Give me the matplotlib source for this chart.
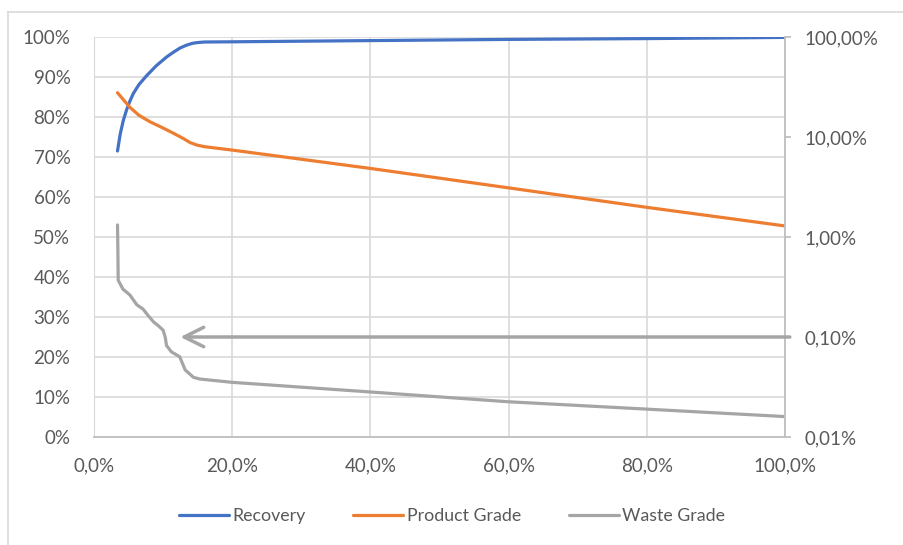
import matplotlib
matplotlib.use("Agg")
import matplotlib.pyplot as plt
from matplotlib.ticker import FuncFormatter, FixedLocator, NullLocator
from matplotlib.lines import Line2D

# mass pull (%) vs. recovery, product grade and waste grade
rec_x = [3.4, 3.8, 4.25, 4.7, 5.2, 5.7, 6.5, 7.6, 9.0, 10.5, 11.5, 12.4, 13.3, 14.2, 14.9, 16.0, 20.0, 40.0, 60.0, 80.0, 100.0]
recovery = [71.5, 75.8, 79.2, 81.7, 84.0, 85.9, 88.1, 90.3, 92.8, 95.0, 96.2, 97.2, 97.9, 98.4, 98.6, 98.75, 98.8, 99.1, 99.4, 99.6, 99.9]

prod_x = [3.4, 5.2, 6.5, 8.1, 10.0, 11.5, 13.0, 13.9, 14.9, 16.0, 20.0, 40.0, 60.0, 80.0, 100.0]
product_grade = [27.7, 19.8, 16.5, 14.2, 12.3, 10.9, 9.6, 8.8, 8.3, 8.0, 7.4, 4.85, 3.1, 1.98, 1.29]

waste_x = [3.4, 3.45, 3.5, 4.2, 4.6, 5.2, 5.6, 6.2, 7.1, 7.8, 8.6, 9.4, 10.0, 10.3, 10.5,
           11.2, 12.4, 13.2, 14.4, 15.3, 20.0, 40.0, 60.0, 80.0, 100.0]
waste_grade = [1.32, 0.8, 0.37, 0.30, 0.285, 0.263, 0.24, 0.21, 0.19, 0.165, 0.142, 0.128, 0.117, 0.10, 0.082,
               0.071, 0.0635, 0.0468, 0.0395, 0.0380, 0.0352, 0.0282, 0.0225, 0.019, 0.016]

arrow_level = 0.1     # waste grade target marked by the arrow
arrow_tip_x = 12.5

BLUE, ORANGE, GRAY = "#4472C4", "#ED7D31", "#A5A5A5"
GRID = "#D9D9D9"
SPINE = "#BFBFBF"
TEXT = "#595959"

plt.rcParams["font.family"] = ["Lato", "DejaVu Sans"]

fig = plt.figure(figsize=(9.04, 5.45), dpi=100)
ax = fig.add_axes([94 / 904, 1 - 437 / 545, (785 - 94) / 904, 400 / 545])
ax2 = ax.twinx()

lw = 2.3
ax.plot(rec_x, recovery, color=BLUE, lw=lw, solid_capstyle="round", label="Recovery")
ax2.plot(prod_x, product_grade, color=ORANGE, lw=lw, solid_capstyle="round", label="Product Grade")
ax2.plot(waste_x, waste_grade, color=GRAY, lw=lw, solid_capstyle="round", label="Waste Grade")

ax2.annotate("", xy=(arrow_tip_x, arrow_level), xytext=(100.7, arrow_level),
             annotation_clip=False,
             arrowprops=dict(arrowstyle="->,head_length=0.7,head_width=0.35",
                             mutation_scale=20, color=GRAY, lw=2.5, shrinkA=0, shrinkB=0))

ax.set_xlim(0, 100)
ax.set_ylim(0, 100)
ax.xaxis.set_major_locator(FixedLocator([0, 20, 40, 60, 80, 100]))
ax.yaxis.set_major_locator(FixedLocator(range(0, 101, 10)))
ax.xaxis.set_major_formatter(FuncFormatter(lambda v, p: f"{v:.1f}".replace(".", ",") + "%"))
ax.yaxis.set_major_formatter(FuncFormatter(lambda v, p: f"{v:.0f}%"))
ax.grid(True, color=GRID, lw=1.2)
ax.set_axisbelow(True)

ax2.set_yscale("log")
ax2.set_ylim(0.01, 100)
ax2.yaxis.set_major_locator(FixedLocator([0.01, 0.1, 1, 10, 100]))
ax2.yaxis.set_minor_locator(NullLocator())
ax2.yaxis.set_major_formatter(FuncFormatter(lambda v, p: f"{v:.2f}".replace(".", ",") + "%"))

fs = 13.5
ax.tick_params(axis="x", length=0, pad=15, colors=TEXT, labelsize=fs)
ax.tick_params(axis="y", length=0, pad=17, colors=TEXT, labelsize=fs)
ax2.tick_params(axis="y", length=4, width=1.3, color=SPINE, pad=10, labelcolor=TEXT, labelsize=fs)

for a in (ax, ax2):
    a.spines["top"].set_visible(False)
ax.spines["left"].set_color(GRID)
ax.spines["bottom"].set_color(SPINE)
ax2.spines["left"].set_visible(False)
ax2.spines["bottom"].set_visible(False)
ax2.spines["right"].set_color(SPINE)
ax2.spines["right"].set_linewidth(1.3)
ax.spines["bottom"].set_linewidth(1.3)
ax.spines["right"].set_visible(False)

handles = [Line2D([], [], color=c, lw=lw, solid_capstyle="round") for c in (BLUE, ORANGE, GRAY)]
leg = fig.legend(handles, ["Recovery", "Product Grade", "Waste Grade"], loc="center",
                 bbox_to_anchor=(0.5, 1 - 516 / 545), ncol=3, frameon=False,
                 handlelength=2.8, handletextpad=0.2, columnspacing=2.7, fontsize=12.8)
for t in leg.get_texts():
    t.set_color(TEXT)

# chart area border
fig.add_artist(Line2D([8 / 904, 8 / 904], [0, 1 - 12 / 545], color=GRID, lw=1.2))
fig.add_artist(Line2D([8 / 904, 1], [1 - 12 / 545, 1 - 12 / 545], color=GRID, lw=1.2))

fig.savefig("out.png", dpi=100)
